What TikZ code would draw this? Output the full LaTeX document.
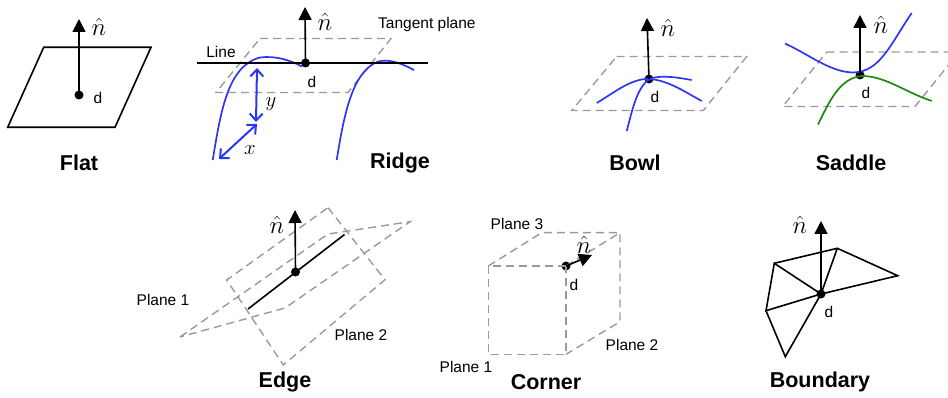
\documentclass[tikz,border=0pt]{standalone}
\usepackage{fontspec}
\setmainfont{Liberation Sans}
\usetikzlibrary{arrows.meta}
\tikzset{
  x=1pt,y=-1pt,
  solidline/.style={line width=1.6pt,black,line join=miter},
  dashedline/.style={line width=1.4pt,draw=dashgray,dash pattern=on 8pt off 5pt},
  normalarrow/.style={line width=1.6pt,black,-{Triangle[length=13pt,width=13pt]}},
  bluecurve/.style={line width=1.7pt,draw=curveblue},
  greencurve/.style={line width=1.7pt,draw=curvegreen},
  bluearrow/.style={line width=2pt,draw=arrowblue,{Straight Barb[length=7pt,width=13pt]}-{Straight Barb[length=7pt,width=13pt]}},
  dotnode/.style={circle,fill=black,inner sep=0pt,minimum size=9pt},
  lbl/.style={font=\fontsize{15.5pt}{18pt}\selectfont,inner sep=0pt},
  dlbl/.style={font=\fontsize{15.5pt}{18pt}\selectfont,inner sep=0pt},
  title/.style={font=\fontsize{21.5pt}{24pt}\selectfont\bfseries,inner sep=0pt},
  hat/.style={font=\fontsize{23pt}{26pt}\selectfont,inner sep=0pt},
}
\definecolor{dashgray}{HTML}{9A9A9A}
\definecolor{curveblue}{HTML}{2F35F0}
\definecolor{arrowblue}{HTML}{2A35F5}
\definecolor{curvegreen}{HTML}{1F8A12}
\newcommand{\nhat}{$\hat{n}$}
\begin{document}
\begin{tikzpicture}
\useasboundingbox (0,0) rectangle (948,398);
% Flat
\coordinate (f1) at (43.7,47.3);\coordinate (f2) at (151,47.3);\coordinate (f3) at (115,127.3);\coordinate (f4) at (7.7,127.3);
\draw[solidline] (f1)--(f2)--(f3)--(f4)--cycle;
\node[dotnode] (fd) at (79,95) {};
\coordinate (fn) at (79,19);
\draw[normalarrow] (fd.center)--(fn);
\node[hat] (fh) at (99,27) {\nhat};
\node[dlbl] (fdl) at (98,98) {d};
\node[title] (ft) at (79,163) {Flat};
% Ridge
\coordinate (r1) at (260,38.5);\coordinate (r2) at (391,38.5);\coordinate (r3) at (348,92.5);\coordinate (r4) at (216,92.5);
\draw[dashedline] (r1)--(r2)--(r3)--(r4)--cycle;
\draw[bluecurve] (212.7,160) .. controls (221,110) and (228,66) .. (260,57.5) .. controls (275,55.5) and (290,60) .. (302,66.5);
\draw[bluecurve] (336.7,160) .. controls (344,115) and (352,72) .. (378,61.5) .. controls (392,58.5) and (404,65) .. (414,70);
\coordinate (rl1) at (197.3,63.3);\coordinate (rl2) at (428.3,63.3);
\draw[line width=1.8pt,black] (rl1)--(rl2);
\node[dotnode] (rd) at (305.5,63) {};
\coordinate (rn) at (305,7);
\draw[normalarrow] (rd.center)--(rn);
\node[hat] (rh) at (325,22) {\nhat};
\node[lbl,anchor=west] (rt) at (378,24) {Tangent plane};
\node[lbl] (rline) at (221,52) {Line};
\node[dlbl] (rdl) at (312,82) {d};
\coordinate (ya) at (257,68);\coordinate (yb) at (256,122);\coordinate (xa) at (257,124);\coordinate (xb) at (219,159);
\draw[bluearrow] (ya)--(yb);
\draw[bluearrow] (xa)--(xb);
\node[hat,font=\fontsize{22pt}{24pt}\selectfont] (rx) at (250,150) {$x$};
\node[hat,font=\fontsize{22pt}{24pt}\selectfont] (ry) at (271,104) {$y$};
\node[title] (rtt) at (400,163) {Ridge};
% Bowl
\coordinate (b1) at (616.7,56.5);\coordinate (b2) at (746.7,56.5);\coordinate (b3) at (703.3,110.5);\coordinate (b4) at (571.7,110.5);
\draw[dashedline] (b1)--(b2)--(b3)--(b4)--cycle;
\node[dotnode] (bd) at (649,79) {};
\draw[bluecurve] (596.7,103) .. controls (615,92) and (628,81) .. (645,79) .. controls (665,78) and (685,92) .. (701.7,101);
\draw[bluecurve] (626.7,131) .. controls (632,112) and (637,84) .. (652,78) .. controls (665,75) and (680,78) .. (691.7,80);
\coordinate (bn) at (647,18);
\draw[normalarrow] (bd.center)--(bn);
\node[hat] (bh) at (668,28) {\nhat};
\node[dlbl] (bdl) at (655,97) {d};
\node[title] (btt) at (635,163) {Bowl};
% Saddle
\coordinate (s1) at (826.7,52);\coordinate (s2) at (959,52);\coordinate (s3) at (915,106.5);\coordinate (s4) at (782.7,106.5);
\draw[dashedline] (s1)--(s2)--(s3)--(s4)--cycle;
\node[dotnode] (sd) at (860,75) {};
\draw[bluecurve] (785,43.5) .. controls (810,55) and (830,72) .. (853,72.5) .. controls (880,72) and (890,45) .. (911.7,13);
\draw[greencurve] (818,124.5) .. controls (830,100) and (840,78) .. (862,76) .. controls (885,76) and (905,92) .. (931.7,101);
\coordinate (sn) at (860,15);
\draw[normalarrow] (sd.center)--(sn);
\node[hat] (sh) at (881,25) {\nhat};
\node[dlbl] (sdl) at (866,93) {d};
\node[title] (stt) at (851,163) {Saddle};
% Edge
\coordinate (e1) at (328,207.7);\coordinate (e2) at (385,279.7);\coordinate (e3) at (283.3,365);\coordinate (e4) at (226.7,280);
\draw[dashedline] (e1)--(e2)--(e3)--(e4)--cycle;
\coordinate (p1) at (180,337);\coordinate (p2) at (328,234);\coordinate (p3) at (410,221.7);\coordinate (p4) at (285,308);
\draw[dashedline] (p1)--(p2)--(p3)--(p4)--cycle;
\coordinate (l1) at (248,309);\coordinate (l2) at (344.5,234.5);
\draw[solidline] (l1)--(l2);
\node[dotnode] (ed) at (295.5,272) {};
\coordinate (en) at (295,210);
\draw[normalarrow] (ed.center)--(en);
\node[hat] (eh) at (277,225) {\nhat};
\node[lbl] (ep1) at (163,300) {Plane 1};
\node[lbl] (ep2) at (361,335) {Plane 2};
\node[title] (ett) at (285,382) {Edge};
% Corner
\coordinate (c1) at (488.3,266);\coordinate (c3) at (566,354.3);\coordinate (c4) at (488.3,354.3);
\coordinate (c5) at (541.7,232.7);\coordinate (c6) at (620,232.7);\coordinate (c7) at (620,321.7);
\node[dotnode] (cd) at (566,266) {};
\draw[dashedline] (cd.center)--(c1)--(c4)--(c3)--cycle;
\draw[dashedline] (c1)--(c5)--(c6)--(c7)--(c3);
\draw[dashedline] (cd.center)--(c6);
\coordinate (cn) at (592,255);
\draw[normalarrow] (cd.center)--(cn);
\node[hat] (ch) at (584,245) {\nhat};
\node[dlbl] (cdl) at (574,285) {d};
\node[lbl] (cp3) at (517,224) {Plane 3};
\node[lbl] (cp1) at (466,367) {Plane 1};
\node[lbl] (cp2) at (632,345) {Plane 2};
\node[title] (ctt) at (546,382) {Corner};
% Boundary
\coordinate (a) at (774.3,263.3);\coordinate (b) at (837.3,248.3);\coordinate (c) at (897.7,275.7);
\coordinate (ee) at (766,310.7);\coordinate (ff) at (785.3,356.7);
\node[dotnode] (dd) at (821,294) {};
\draw[solidline] (a)--(b)--(c)--(dd.center)--(b);
\draw[solidline] (dd.center)--(a)--(ee)--(dd.center);
\draw[solidline] (ee)--(ff)--(dd.center);
\coordinate (dn) at (821,221);
\draw[normalarrow] (dd.center)--(dn);
\node[hat] (dh) at (800,225) {\nhat};
\node[dlbl] (ddl) at (829,312) {d};
\node[title] (dtt) at (820,382) {Boundary};
\end{tikzpicture}
\end{document}
